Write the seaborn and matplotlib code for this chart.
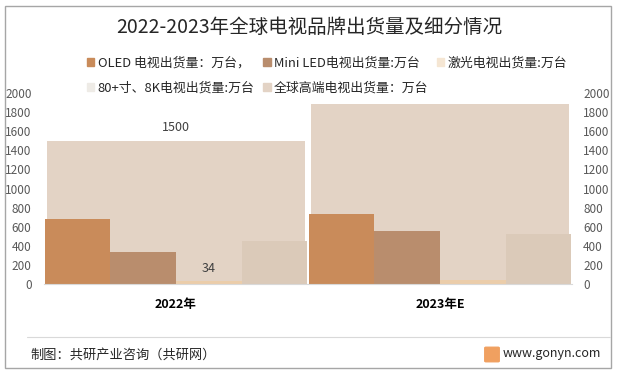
import pandas as pd
import matplotlib.pyplot as plt
import seaborn as sns
from matplotlib.patches import Patch, Rectangle, FancyBboxPatch
from matplotlib.lines import Line2D

# data
years = ['2022年', '2023年E']
series = ['OLED 电视出货量：万台，', 'Mini LED电视出货量:万台', '激光电视出货量:万台', '80+寸、8K电视出货量:万台']
oled = [680, 735]
mini_led = [330, 560]
laser = [34, 40]
big_8k = [450, 525]
high_end_name = '全球高端电视出货量：万台'
high_end = [1500, 1890]

bar_colors = ['#C98B5A', '#B98D6D', '#EBCDAA', '#DBCAB9']
legend_colors = ['#C98B5A', '#B98D6D', '#F5E6D3', '#EEEBE6']
high_color = '#E3D3C5'

rows = []
for name, vals in zip(series, [oled, mini_led, laser, big_8k]):
    for y, v in zip(years, vals):
        rows.append({'year': y, 'series': name, 'value': v})
df = pd.DataFrame(rows)

sns.set_style('white')
plt.rcParams['font.family'] = ['Noto Sans CJK SC', 'DejaVu Sans']

fig = plt.figure(figsize=(6.19, 3.74), dpi=100)
ax = fig.add_axes([44 / 619, 1 - 284 / 374, 528 / 619, 191 / 374])
ax2 = ax.twinx()

# secondary axis: high-end total behind everything
sns.barplot(x=years, y=high_end, color=high_color, width=0.98, saturation=1,
            linewidth=0, ax=ax2)
ax2.bar_label(ax2.containers[0], labels=['1500', ''], padding=5, fontsize=9, color='#404040')

# primary axis: four segments side by side
sns.barplot(data=df, x='year', y='value', hue='series', hue_order=series,
            palette=bar_colors, width=0.995, gap=0, saturation=1, linewidth=0,
            legend=False, ax=ax)
ax.bar_label(ax.containers[2], labels=['34', ''], padding=4, fontsize=9, color='#404040')

ax.set_zorder(ax2.get_zorder() + 1)
ax.patch.set_visible(False)

for a in (ax, ax2):
    a.set_ylim(0, 2000)
    a.set_yticks(range(0, 2001, 200))
    a.set_xlim(-0.5, 1.5)
    a.set_xlabel('')
    a.set_ylabel('')
    for s in a.spines.values():
        s.set_visible(False)
    a.tick_params(axis='y', length=0, labelsize=8.5, labelcolor='#595959')
ax.tick_params(axis='y', pad=9)
ax2.tick_params(axis='y', pad=8)
ax.spines['bottom'].set_visible(True)
ax.spines['bottom'].set_color('#D9D9D9')

ax.set_xticks([0, 1])
ax.set_xticklabels(years, fontsize=9, fontweight='bold', color='#000000')
ax.tick_params(axis='x', length=0, pad=10)

# legend
handles = [Patch(color=c) for c in legend_colors] + [Patch(color=high_color)]
labels = series + [high_end_name]
order = [0, 3, 1, 4, 2]
fig.legend([handles[i] for i in order], [labels[i] for i in order],
           loc='upper left', bbox_to_anchor=(84 / 619, 1 - 54 / 374), ncol=3,
           frameon=False, fontsize=9.3, handlelength=0.6, handleheight=0.6,
           handletextpad=0.25, labelspacing=0.95, columnspacing=0.65,
           borderaxespad=0, borderpad=0.2, labelcolor='#262626')

fig.text(0.5, 1 - 27 / 374, '2022-2023年全球电视品牌出货量及细分情况',
         ha='center', va='center', fontsize=14, color='#262626')

# footer
fig.add_artist(Line2D([27 / 619, 610 / 619], [1 - 337 / 374] * 2, color='#D9D9D9', lw=0.8))
fig.text(30 / 619, 1 - 355 / 374, '制图：共研产业咨询（共研网）', ha='left', va='center',
         fontsize=9.5, color='#262626')
fig.text(601 / 619, 1 - 354 / 374, 'www.gonyn.com', ha='right', va='center',
         fontsize=9, color='#262626')
fig.add_artist(FancyBboxPatch((486 / 619, 1 - 361 / 374), 12 / 619, 13 / 374,
                              boxstyle='round,pad=0.002', color='#F0A060'))
fig.add_artist(Rectangle((5 / 619, 1 - 368 / 374), 606 / 619, 362 / 374,
                         fill=False, edgecolor='#A6A6A6', lw=1))

fig.savefig('out.png', dpi=100)
